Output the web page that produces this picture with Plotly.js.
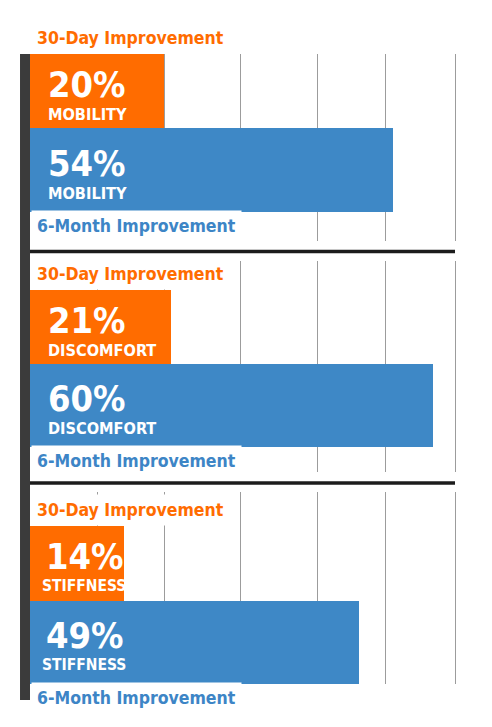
<!DOCTYPE html>
<html>
<head>
<meta charset="utf-8">
<script src="https://cdn.plot.ly/plotly-3.0.1.min.js"></script>
<style>
  html, body { margin: 0; padding: 0; background: #fff; }
  #chart { width: 492px; height: 727px; }
  #chart text { font-stretch: condensed; }
</style>
</head>
<body>
<div id="chart"></div>
<script>
// chart values
var metrics = ['MOBILITY', 'DISCOMFORT', 'STIFFNESS'];
var day30 = [20, 21, 14];
var month6 = [54, 60, 49];
var periodLabels = ['30-Day Improvement', '6-Month Improvement'];

var ORANGE = '#ff6c00';
var BLUE = '#3e88c6';
var FONT = 'DejaVu Sans Condensed, DejaVu Sans, sans-serif';

// panel layout (fractions of the figure height), y ranges per panel
var panelDomains = [[0.6685, 0.9257], [0.3508, 0.6410], [0.0591, 0.3232]];
var panelRanges = [[1.898, -0.4715], [1.847, -0.841], [1.529, -0.905]];
var barWidths = [0.943, 1.057];
var gridVals = [10, 20, 31.4, 42.8, 53];
// label offsets inside the bars (last panel has a short bar, so tighter)
var pctShift = [17, 17, 15];
var wordShift = [17, 17, 11];
var wordSize = [16.2, 16.2, 15.5];

var data = [];
var layout = {
    width: 492, height: 727,
    margin: {l: 30, r: 37, t: 0, b: 0},
    paper_bgcolor: '#fff', plot_bgcolor: '#fff',
    showlegend: false, bargap: 0,
    font: {family: FONT},
    annotations: [], shapes: []
};

for (var i = 0; i < metrics.length; i++) {
    var n = i === 0 ? '' : String(i + 1);
    var xa = 'x' + n, ya = 'y' + n;

    data.push({
        type: 'bar', orientation: 'h',
        x: [day30[i], month6[i]], y: [0, 1],
        width: barWidths,
        marker: {color: [ORANGE, BLUE], line: {width: 0}},
        hoverinfo: 'skip',
        xaxis: xa, yaxis: ya
    });

    layout['xaxis' + n] = {
        anchor: ya, domain: [0, 1], range: [0, 63.3],
        tickvals: gridVals, showticklabels: false, ticks: '',
        showgrid: true, gridcolor: '#9c9c9c', gridwidth: 1,
        zeroline: false, showline: false, fixedrange: true
    };
    layout['yaxis' + n] = {
        anchor: xa, domain: panelDomains[i], range: panelRanges[i],
        showticklabels: false, ticks: '', showgrid: false, zeroline: false,
        showline: true, mirror: true, linecolor: '#9c9c9c', linewidth: 1,
        fixedrange: true
    };

    // period labels above / below the pair of bars
    layout.annotations.push({
        xref: xa, yref: ya, x: 0, y: -barWidths[0] / 2,
        xanchor: 'left', yanchor: 'bottom', xshift: 1, yshift: 0,
        text: '<b>' + periodLabels[0] + '</b>', showarrow: false,
        font: {family: FONT, size: 17.5, color: ORANGE},
        bgcolor: '#fff', borderpad: 5
    });
    layout.annotations.push({
        xref: xa, yref: ya, x: 0, y: 1 + barWidths[1] / 2,
        xanchor: 'left', yanchor: 'top', xshift: 1, yshift: 2,
        text: '<b>' + periodLabels[1] + '</b>', showarrow: false,
        font: {family: FONT, size: 17.5, color: '#3d85c6'},
        bgcolor: '#fff', borderpad: 5
    });

    // value labels inside the bars
    var vals = [day30[i], month6[i]];
    for (var k = 0; k < 2; k++) {
        layout.annotations.push({
            xref: xa, yref: ya, x: 0, y: k,
            xanchor: 'left', yanchor: 'middle', xshift: pctShift[i], yshift: 7,
            text: '<b>' + vals[k] + '%</b>', showarrow: false,
            font: {family: FONT, size: 36, color: '#fff'}, borderpad: 0
        });
        layout.annotations.push({
            xref: xa, yref: ya, x: 0, y: k,
            xanchor: 'left', yanchor: 'middle', xshift: wordShift[i], yshift: -23,
            text: '<b>' + metrics[i] + '</b>', showarrow: false,
            font: {family: FONT, size: wordSize[i], color: '#fff'}, borderpad: 0
        });
    }
}

// dark spine on the left and black separators between panels
layout.shapes.push({
    type: 'rect', xref: 'paper', yref: 'paper',
    x0: -0.0235, x1: 0, y0: 0.0371, y1: 0.9257,
    fillcolor: '#3b3b3b', line: {width: 0}
});
[0.654, 0.3356].forEach(function (yy) {
    layout.shapes.push({
        type: 'line', xref: 'paper', yref: 'paper',
        x0: 0, x1: 1, y0: yy, y1: yy,
        line: {color: '#1c1c1c', width: 3.5}
    });
});

Plotly.newPlot('chart', data, layout, {displayModeBar: false, staticPlot: true});
</script>
</body>
</html>
